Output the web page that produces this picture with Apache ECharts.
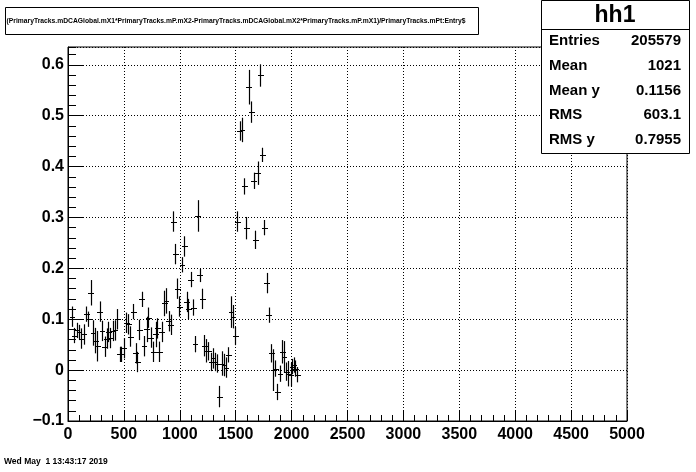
<!DOCTYPE html>
<html>
<head>
<meta charset="utf-8">
<script src="https://cdn.jsdelivr.net/npm/echarts@6/dist/echarts.min.js"></script>
<style>
html,body{margin:0;padding:0;background:#fff;}
#chart{width:696px;height:472px;}
</style>
</head>
<body>
<div id="chart"></div>
<script>
// ---- data (profile histogram hh1: mean y per x bin, with error) ----
const binX = [38,58,78,100,120,142,165,182,202,222,245,262,283,303,328,345,362,378,400,420,441,462,478,500,522,540,558,584,605,620,638,659,681,704,718,739,763,784,799,818,838,862,878,900,918,943,960,978,996,1021,1040,1061,1076,1097,1121,1138,1160,1177,1201,1219,1236,1256,1278,1298,1317,1337,1355,1378,1396,1413,1435,1458,1474,1497,1515,1535,1556,1577,1595,1616,1640,1661,1675,1697,1720,1738,1756,1777,1795,1819,1836,1854,1872,1896,1917,1932,1953,1970,1992,2004,2019,2033,2051];
const meanY = [0.105,0.068,0.078,0.074,0.062,0.070,0.110,0.100,0.152,0.073,0.058,0.047,0.115,0.077,0.046,0.062,0.075,0.063,0.077,0.078,0.100,0.031,0.031,0.043,0.093,0.090,0.066,0.115,0.033,0.016,0.079,0.139,0.047,0.080,0.103,0.064,0.036,0.070,0.082,0.036,0.075,0.131,0.136,0.096,0.089,0.292,0.228,0.160,0.125,0.207,0.243,0.134,0.120,0.178,0.123,0.051,0.303,0.186,0.140,0.048,0.038,0.037,0.016,0.023,0.016,0.013,-0.052,0.013,0.010,0.005,0.030,0.114,0.105,0.067,0.292,0.470,0.472,0.361,0.279,0.556,0.507,0.372,0.256,0.387,0.579,0.423,0.280,0.171,0.108,0.033,0.000,0.003,-0.043,-0.007,0.036,0.026,-0.003,-0.007,-0.009,0.007,0.010,0.003,-0.009];
const errY = [0.020,0.015,0.015,0.015,0.020,0.020,0.015,0.015,0.025,0.025,0.025,0.030,0.020,0.020,0.020,0.020,0.020,0.020,0.020,0.020,0.020,0.015,0.015,0.020,0.020,0.020,0.020,0.015,0.020,0.020,0.020,0.015,0.020,0.025,0.020,0.020,0.020,0.025,0.020,0.020,0.020,0.025,0.025,0.020,0.020,0.020,0.020,0.020,0.020,0.015,0.020,0.020,0.020,0.015,0.016,0.016,0.031,0.013,0.020,0.021,0.023,0.018,0.018,0.020,0.018,0.018,0.021,0.024,0.022,0.020,0.015,0.031,0.023,0.018,0.020,0.019,0.024,0.016,0.022,0.034,0.021,0.016,0.018,0.023,0.022,0.014,0.015,0.020,0.015,0.018,0.041,0.016,0.016,0.016,0.023,0.031,0.018,0.025,0.023,0.015,0.015,0.016,0.015];

const xMin = 0, xMax = 5000, xStep = 500, xMinorStep = 100;
const yMin = -0.1, yMax = 0.635, yStep = 0.1, yMinorStep = 0.02;

const titleText = '(PrimaryTracks.mDCAGlobal.mX1*PrimaryTracks.mP.mX2-PrimaryTracks.mDCAGlobal.mX2*PrimaryTracks.mP.mX1)/PrimaryTracks.mPt:Entry$';
const statName = 'hh1';
const statLabels = ['Entries','Mean','Mean y','RMS','RMS y'];
const statValues = ['205579','1021','0.1156','603.1','0.7955'];
const dateText = 'Wed May  1 13:43:17 2019';

// ---- build chart ----
const FONT = '"Liberation Sans", Arial, Helvetica, sans-serif';
const chart = echarts.init(document.getElementById('chart'), null, {renderer:'canvas'});

const pts = binX.map((x,i)=>[x, meanY[i], errY[i]]);

const gridBox = {left:68, top:47, width:559, height:374};
const dotted = {color:'#000', width:1, type:[1,2]};

const statGraphics = [];
const sx = 541, sy = 0, sw = 148, sh = 153, headH = 29, rowH = 24.6;
statGraphics.push({type:'rect', shape:{x:sx+0.5,y:sy+0.5,width:sw,height:sh}, style:{fill:'#fff',stroke:'#000',lineWidth:1}, z:100});
statGraphics.push({type:'line', shape:{x1:sx,y1:sy+headH+0.5,x2:sx+sw,y2:sy+headH+0.5}, style:{stroke:'#000',lineWidth:1}, z:101});
statGraphics.push({type:'text', x:sx+sw/2, y:sy+headH/2+1, style:{text:statName, font:'bold 23px '+FONT, fill:'#000', align:'center', verticalAlign:'middle'}, z:101});
statLabels.forEach((lab,i)=>{
  const cy = sy+headH+rowH*(i+0.5);
  statGraphics.push({type:'text', x:sx+8, y:cy, style:{text:lab, font:'bold 15px '+FONT, fill:'#000', align:'left', verticalAlign:'middle'}, z:101});
  statGraphics.push({type:'text', x:sx+sw-8, y:cy, style:{text:statValues[i], font:'bold 15px '+FONT, fill:'#000', align:'right', verticalAlign:'middle'}, z:101});
});

function yFmt(v){
  const n = Math.round(v*10);
  if (n === 0) return '0';
  return (n<0?'\u2212':'') + '0.' + Math.abs(n);
}

const option = {
  backgroundColor:'#fff',
  animation:false,
  grid:{left:gridBox.left, top:gridBox.top, width:gridBox.width, height:gridBox.height, show:true, borderColor:'#000', borderWidth:1, backgroundColor:'transparent'},
  xAxis:[{
    type:'value', min:xMin, max:xMax, interval:xStep,
    axisLine:{show:true, onZero:false, lineStyle:{color:'#000', width:1}},
    axisTick:{show:true, inside:true, length:11, lineStyle:{color:'#000'}},
    minorTick:{show:true, splitNumber:xStep/xMinorStep, length:6, lineStyle:{color:'#000'}},
    splitLine:{show:true, lineStyle:dotted},
    axisLabel:{color:'#000', fontFamily:FONT, fontWeight:'bold', fontSize:16, margin:6, formatter:v=>String(v)}
  }],
  yAxis:[{
    type:'value', min:yMin, max:yMax, interval:yStep,
    axisLine:{show:true, onZero:false, lineStyle:{color:'#000', width:1}},
    axisTick:{show:true, inside:true, length:16, lineStyle:{color:'#000'}},
    splitLine:{show:true, lineStyle:dotted},
    axisLabel:{color:'#000', fontFamily:FONT, fontWeight:'bold', fontSize:16, margin:4, showMaxLabel:false, formatter:yFmt}
  },{
    type:'value', min:yMin, max:yMax, interval:yMinorStep, position:'left',
    axisLine:{show:false}, axisLabel:{show:false}, splitLine:{show:false},
    axisTick:{show:true, inside:true, length:8, lineStyle:{color:'#000'}}
  }],
  series:[{
    type:'custom',
    coordinateSystem:'cartesian2d',
    xAxisIndex:0, yAxisIndex:0,
    data:pts,
    clip:true,
    renderItem:function(params, api){
      const x = api.value(0), y = api.value(1), e = api.value(2);
      const c = api.coord([x,y]);
      const t = api.coord([x,y+e]);
      const b = api.coord([x,y-e]);
      const l = api.coord([x-20,y]);
      const r = api.coord([x+20,y]);
      const px = Math.round(c[0])+0.5, py = Math.round(c[1])+0.5;
      return {type:'group', children:[
        {type:'line', shape:{x1:px,y1:t[1],x2:px,y2:b[1]}, style:{stroke:'#000',lineWidth:1.2}},
        {type:'line', shape:{x1:Math.round(l[0]),y1:py,x2:Math.round(r[0])+1,y2:py}, style:{stroke:'#000',lineWidth:1}}
      ]};
    }
  }],
  graphic:[
    {type:'rect', shape:{x:5.5,y:7.5,width:473,height:27}, style:{fill:'#fff',stroke:'#000',lineWidth:1}, z:100},
    {type:'text', x:236, y:21, style:{text:titleText, font:'bold 6.75px '+FONT, fill:'#000', align:'center', verticalAlign:'middle'}, z:101},
    {type:'text', x:4, y:462, style:{text:dateText, font:'bold 8.5px '+FONT, fill:'#000', align:'left', verticalAlign:'middle'}, z:101}
  ].concat(statGraphics)
};
chart.setOption(option);
</script>
</body>
</html>
